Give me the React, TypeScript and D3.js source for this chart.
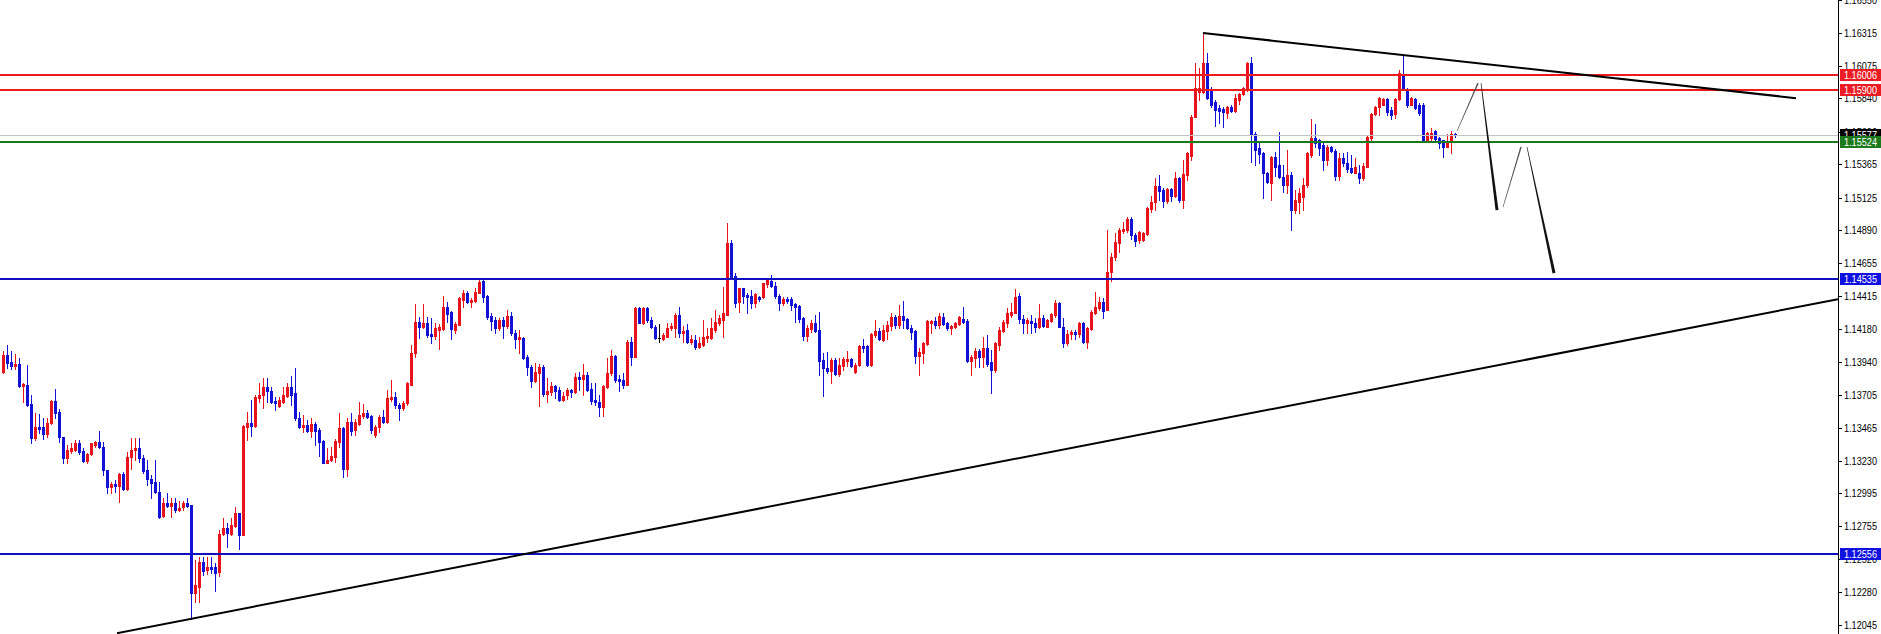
import React, { useEffect } from 'react';
import * as d3 from 'd3';

// ---- candle data (EURUSD-like) ----
const opens = [
1.13868,1.13990,1.13940,1.13911,1.13925,1.13767,1.13774,1.13636,1.13391,1.13471,
1.13471,1.13420,1.13499,1.13658,1.13579,1.13399,1.13247,1.13298,1.13305,1.13355,
1.13298,1.13226,1.13276,1.13341,1.13363,1.13327,1.13161,1.13039,1.13060,1.13046,
1.13132,1.13024,1.13255,1.13305,1.13319,1.13247,1.13161,1.13096,1.13075,1.13003,
1.12829,1.12923,1.12902,1.12923,1.12872,1.12895,1.12923,1.12909,1.12274,1.12318,
1.12498,1.12440,1.12462,1.12462,1.12426,1.12699,1.12742,1.12699,1.12757,1.12850,
1.12692,1.13471,1.13499,1.13478,1.13679,1.13701,1.13760,1.13730,1.13658,1.13622,
1.13651,1.13694,1.13760,1.13715,1.13535,1.13471,1.13485,1.13442,1.13492,1.13449,
1.13370,1.13211,1.13233,1.13255,1.13363,1.13463,1.13168,1.13507,1.13449,1.13492,
1.13550,1.13571,1.13550,1.13413,1.13471,1.13543,1.13507,1.13672,1.13687,1.13629,
1.13607,1.13643,1.13774,1.14004,1.14228,1.14192,1.14220,1.14141,1.14127,1.14170,
1.14177,1.14336,1.14300,1.14170,1.14206,1.14386,1.14436,1.14372,1.14379,1.14436,
1.14523,1.14415,1.14271,1.14242,1.14184,1.14242,1.14199,1.14271,1.14148,1.14105,
1.14112,1.13976,1.13904,1.13803,1.13860,1.13904,1.13708,1.13723,1.13767,1.13737,
1.13665,1.13701,1.13737,1.13723,1.13832,1.13817,1.13846,1.13745,1.13665,1.13651,
1.13615,1.13760,1.13860,1.13983,1.13817,1.13810,1.13774,1.14084,1.13976,1.14328,
1.14220,1.14328,1.14242,1.14192,1.14112,1.14105,1.14120,1.14184,1.14184,1.14278,
1.14148,1.14170,1.14084,1.14098,1.14048,1.14062,1.14112,1.14112,1.14170,1.14220,
1.14242,1.14278,1.14797,1.14560,1.14372,1.14472,1.14422,1.14415,1.14364,1.14408,
1.14408,1.14501,1.14523,1.14487,1.14415,1.14364,1.14393,1.14393,1.14357,1.14343,
1.14256,1.14127,1.14177,1.14220,1.14170,1.13954,1.13896,1.13875,1.13954,1.13853,
1.13911,1.13947,1.13961,1.13868,1.13918,1.14055,1.14055,1.13918,1.14134,1.14163,
1.14098,1.14163,1.14199,1.14264,1.14206,1.14271,1.14249,1.14184,1.14163,1.13983,
1.14004,1.14069,1.14220,1.14235,1.14206,1.14264,1.14220,1.14184,1.14192,1.14213,
1.14249,1.14235,1.13947,1.13968,1.14019,1.13976,1.14040,1.13940,1.13882,1.14062,
1.14163,1.14220,1.14278,1.14292,1.14415,1.14249,1.14220,1.14235,1.14220,1.14192,
1.14256,1.14192,1.14235,1.14278,1.14364,1.14192,1.14076,1.14141,1.14156,1.14141,
1.14220,1.14084,1.14177,1.14292,1.14328,1.14372,1.14314,1.14589,1.14697,1.14797,
1.14884,1.14891,1.14970,1.14855,1.14819,1.14819,1.14862,1.15042,1.15093,1.15208,
1.15179,1.15100,1.15186,1.15136,1.15265,1.15107,1.15287,1.15425,1.15706,1.15886,
1.15886,1.16094,1.15907,1.15814,1.15770,1.15763,1.15734,1.15778,1.15749,1.15828,
1.15871,1.15900,1.16094,1.15583,1.15482,1.15446,1.15301,1.15229,1.15418,1.15360,
1.15273,1.15215,1.15287,1.15035,1.15093,1.15128,1.15215,1.15432,1.15555,1.15540,
1.15504,1.15396,1.15490,1.15461,1.15280,1.15410,1.15374,1.15338,1.15301,1.15301,
1.15265,1.15345,1.15555,1.15727,1.15778,1.15792,1.15835,1.15756,1.15727,1.15835,
1.16000,1.15900,1.15792,1.15835,1.15792,1.15792,1.15540,1.15555,1.15605,1.15555,
1.15540,1.15490,1.15533,1.15583,
];

const highs = [
1.14019,1.14062,1.14019,1.13997,1.13968,1.13788,1.13918,1.13701,1.13571,1.13564,
1.13535,1.13535,1.13665,1.13745,1.13600,1.13399,1.13341,1.13355,1.13377,1.13377,
1.13319,1.13283,1.13355,1.13370,1.13442,1.13363,1.13161,1.13075,1.13089,1.13139,
1.13147,1.13291,1.13391,1.13391,1.13391,1.13269,1.13233,1.13125,1.13233,1.13075,
1.12959,1.12995,1.12959,1.12959,1.12938,1.12938,1.12959,1.12909,1.12512,1.12534,
1.12534,1.12534,1.12534,1.12490,1.12728,1.12814,1.12778,1.12814,1.12895,1.12850,
1.13485,1.13579,1.13665,1.13701,1.13788,1.13824,1.13824,1.13760,1.13687,1.13687,
1.13760,1.13788,1.13839,1.13896,1.13579,1.13557,1.13521,1.13535,1.13507,1.13463,
1.13377,1.13319,1.13327,1.13384,1.13571,1.13471,1.13535,1.13571,1.13528,1.13651,
1.13636,1.13593,1.13557,1.13485,1.13557,1.13593,1.13737,1.13810,1.13723,1.13643,
1.13658,1.13796,1.14062,1.14357,1.14264,1.14357,1.14264,1.14256,1.14220,1.14213,
1.14415,1.14372,1.14307,1.14228,1.14408,1.14458,1.14451,1.14400,1.14472,1.14538,
1.14530,1.14422,1.14292,1.14264,1.14256,1.14264,1.14314,1.14300,1.14170,1.14170,
1.14120,1.13990,1.13918,1.13932,1.13925,1.13918,1.13824,1.13796,1.13774,1.13760,
1.13723,1.13752,1.13745,1.13860,1.13868,1.13925,1.13868,1.13788,1.13788,1.13701,
1.13774,1.13968,1.14026,1.13990,1.13846,1.13860,1.14098,1.14120,1.14336,1.14336,
1.14336,1.14336,1.14264,1.14206,1.14213,1.14148,1.14220,1.14220,1.14292,1.14336,
1.14199,1.14213,1.14134,1.14134,1.14120,1.14242,1.14184,1.14256,1.14314,1.14278,
1.14480,1.14941,1.14819,1.14581,1.14472,1.14472,1.14436,1.14458,1.14436,1.14415,
1.14508,1.14545,1.14567,1.14516,1.14429,1.14408,1.14408,1.14408,1.14364,1.14350,
1.14264,1.14206,1.14242,1.14278,1.14300,1.14004,1.14011,1.13968,1.13968,1.13968,
1.13976,1.14019,1.13968,1.13932,1.14062,1.14105,1.14062,1.14148,1.14242,1.14184,
1.14206,1.14235,1.14292,1.14278,1.14350,1.14379,1.14256,1.14206,1.14170,1.14040,
1.14084,1.14242,1.14242,1.14264,1.14292,1.14292,1.14228,1.14206,1.14228,1.14271,
1.14336,1.14249,1.13990,1.14040,1.14033,1.14120,1.14134,1.14026,1.14084,1.14192,
1.14242,1.14328,1.14364,1.14465,1.14436,1.14278,1.14256,1.14278,1.14256,1.14357,
1.14278,1.14249,1.14292,1.14386,1.14372,1.14256,1.14170,1.14170,1.14170,1.14228,
1.14228,1.14192,1.14314,1.14444,1.14408,1.14400,1.14891,1.14725,1.14869,1.14905,
1.14949,1.14985,1.14985,1.14869,1.14884,1.14877,1.15057,1.15136,1.15265,1.15287,
1.15194,1.15194,1.15194,1.15309,1.15273,1.15396,1.15454,1.15720,1.16094,1.16058,
1.16311,1.16167,1.15922,1.15828,1.15792,1.15778,1.15785,1.15792,1.15871,1.15878,
1.15922,1.16102,1.16138,1.15598,1.15518,1.15454,1.15309,1.15425,1.15454,1.15598,
1.15360,1.15468,1.15309,1.15179,1.15194,1.15265,1.15454,1.15691,1.15655,1.15547,
1.15518,1.15504,1.15497,1.15475,1.15446,1.15446,1.15454,1.15432,1.15410,1.15360,
1.15374,1.15576,1.15734,1.15785,1.15850,1.15842,1.15842,1.15778,1.15842,1.16044,
1.16152,1.15914,1.15850,1.15842,1.15806,1.15806,1.15598,1.15626,1.15612,1.15562,
1.15540,1.15583,1.15605,1.15590,
];

const lows = [
1.13860,1.13896,1.13889,1.13889,1.13760,1.13651,1.13622,1.13355,1.13377,1.13427,
1.13384,1.13399,1.13492,1.13535,1.13363,1.13211,1.13211,1.13283,1.13298,1.13276,
1.13219,1.13211,1.13269,1.13327,1.13319,1.13125,1.12995,1.12995,1.13003,1.12931,
1.13017,1.13017,1.13168,1.13233,1.13219,1.13139,1.13053,1.12959,1.12995,1.12814,
1.12822,1.12895,1.12822,1.12858,1.12865,1.12872,1.12895,1.12087,1.12210,1.12210,
1.12404,1.12411,1.12418,1.12289,1.12397,1.12692,1.12606,1.12692,1.12750,1.12591,
1.12692,1.13377,1.13406,1.13471,1.13651,1.13607,1.13651,1.13643,1.13593,1.13615,
1.13643,1.13687,1.13629,1.13521,1.13463,1.13435,1.13435,1.13399,1.13341,1.13262,
1.13211,1.13211,1.13226,1.13219,1.13327,1.13111,1.13118,1.13413,1.13413,1.13485,
1.13535,1.13535,1.13427,1.13399,1.13435,1.13499,1.13499,1.13658,1.13607,1.13521,
1.13593,1.13629,1.13774,1.13976,1.14112,1.14184,1.14120,1.14076,1.14105,1.14033,
1.14170,1.14228,1.14105,1.14148,1.14206,1.14336,1.14364,1.14336,1.14372,1.14436,
1.14372,1.14249,1.14170,1.14148,1.14170,1.14112,1.14184,1.14134,1.14040,1.14004,
1.13961,1.13846,1.13760,1.13796,1.13622,1.13694,1.13651,1.13701,1.13679,1.13658,
1.13658,1.13672,1.13687,1.13715,1.13737,1.13701,1.13730,1.13636,1.13629,1.13550,
1.13550,1.13752,1.13846,1.13796,1.13730,1.13752,1.13774,1.13918,1.13976,1.14220,
1.14213,1.14228,1.14184,1.14105,1.14084,1.14098,1.14120,1.14170,1.14120,1.14120,
1.14084,1.14076,1.14069,1.14033,1.14040,1.14055,1.14084,1.14105,1.14156,1.14206,
1.14120,1.14278,1.14545,1.14336,1.14300,1.14364,1.14292,1.14328,1.14336,1.14379,
1.14400,1.14480,1.14480,1.14400,1.14314,1.14350,1.14364,1.14314,1.14228,1.14228,
1.14098,1.14091,1.14156,1.14156,1.13846,1.13694,1.13860,1.13788,1.13846,1.13839,
1.13882,1.13911,1.13904,1.13860,1.13911,1.14011,1.13911,1.13911,1.14120,1.14098,
1.14091,1.14105,1.14170,1.14184,1.14184,1.14184,1.14177,1.14105,1.13932,1.13846,
1.13932,1.14062,1.14148,1.14184,1.14184,1.14206,1.14170,1.14141,1.14184,1.14206,
1.14220,1.13940,1.13846,1.13904,1.13904,1.13904,1.13911,1.13715,1.13868,1.14026,
1.14156,1.14192,1.14264,1.14292,1.14220,1.14148,1.14148,1.14148,1.14156,1.14184,
1.14192,1.14192,1.14228,1.14264,1.14192,1.14048,1.14062,1.14105,1.14105,1.14120,
1.14076,1.14040,1.14170,1.14285,1.14314,1.14256,1.14314,1.14523,1.14675,1.14733,
1.14869,1.14877,1.14826,1.14776,1.14797,1.14812,1.14855,1.15021,1.15035,1.15107,
1.15057,1.15085,1.15100,1.15128,1.15093,1.15049,1.15251,1.15396,1.15706,1.15828,
1.15878,1.15835,1.15778,1.15641,1.15662,1.15634,1.15698,1.15742,1.15742,1.15799,
1.15864,1.15893,1.15382,1.15360,1.15374,1.15121,1.15229,1.15107,1.15280,1.15265,
1.15165,1.15157,1.14891,1.15014,1.15014,1.15035,1.15201,1.15418,1.15490,1.15432,
1.15323,1.15360,1.15454,1.15251,1.15251,1.15352,1.15309,1.15301,1.15301,1.15229,
1.15251,1.15345,1.15540,1.15720,1.15720,1.15792,1.15720,1.15691,1.15698,1.15828,
1.15900,1.15778,1.15792,1.15763,1.15720,1.15533,1.15533,1.15540,1.15540,1.15482,
1.15418,1.15490,1.15446,1.15562,
];

const closes = [
1.13990,1.13932,1.13911,1.13925,1.13767,1.13781,1.13629,1.13391,1.13471,1.13456,
1.13420,1.13499,1.13658,1.13571,1.13399,1.13247,1.13305,1.13319,1.13355,1.13291,
1.13226,1.13276,1.13355,1.13363,1.13327,1.13161,1.13039,1.13060,1.13046,1.13132,
1.13024,1.13255,1.13305,1.13319,1.13247,1.13154,1.13096,1.13067,1.13003,1.12822,
1.12923,1.12902,1.12923,1.12872,1.12887,1.12923,1.12902,1.12274,1.12332,1.12498,
1.12433,1.12462,1.12447,1.12418,1.12699,1.12742,1.12706,1.12764,1.12850,1.12692,
1.13478,1.13499,1.13478,1.13687,1.13701,1.13760,1.13730,1.13651,1.13643,1.13665,
1.13701,1.13760,1.13701,1.13535,1.13471,1.13485,1.13442,1.13492,1.13442,1.13363,
1.13211,1.13233,1.13262,1.13370,1.13463,1.13168,1.13507,1.13442,1.13507,1.13557,
1.13571,1.13543,1.13449,1.13471,1.13543,1.13507,1.13679,1.13687,1.13629,1.13607,
1.13643,1.13788,1.14004,1.14228,1.14192,1.14220,1.14134,1.14127,1.14184,1.14192,
1.14336,1.14285,1.14177,1.14213,1.14400,1.14436,1.14372,1.14386,1.14444,1.14516,
1.14408,1.14264,1.14235,1.14184,1.14242,1.14199,1.14271,1.14148,1.14105,1.14120,
1.13968,1.13904,1.13803,1.13868,1.13904,1.13708,1.13730,1.13767,1.13730,1.13665,
1.13694,1.13737,1.13723,1.13832,1.13817,1.13846,1.13737,1.13658,1.13651,1.13615,
1.13767,1.13860,1.13983,1.13810,1.13803,1.13774,1.14084,1.13976,1.14328,1.14220,
1.14328,1.14242,1.14192,1.14112,1.14112,1.14134,1.14184,1.14199,1.14278,1.14148,
1.14163,1.14084,1.14105,1.14048,1.14076,1.14120,1.14127,1.14184,1.14228,1.14256,
1.14292,1.14797,1.14553,1.14364,1.14472,1.14415,1.14408,1.14364,1.14429,1.14393,
1.14508,1.14530,1.14487,1.14415,1.14364,1.14393,1.14379,1.14350,1.14336,1.14249,
1.14127,1.14184,1.14220,1.14163,1.13947,1.13896,1.13875,1.13954,1.13853,1.13918,
1.13961,1.13961,1.13911,1.13918,1.14055,1.14040,1.13918,1.14141,1.14163,1.14105,
1.14170,1.14206,1.14264,1.14206,1.14271,1.14242,1.14184,1.14156,1.13983,1.14011,
1.14076,1.14235,1.14235,1.14206,1.14271,1.14213,1.14184,1.14199,1.14220,1.14264,
1.14228,1.13947,1.13976,1.14019,1.13976,1.14040,1.13925,1.13882,1.14076,1.14170,
1.14228,1.14292,1.14300,1.14408,1.14249,1.14220,1.14242,1.14220,1.14192,1.14256,
1.14199,1.14242,1.14285,1.14364,1.14192,1.14076,1.14141,1.14156,1.14141,1.14220,
1.14084,1.14184,1.14300,1.14336,1.14372,1.14307,1.14589,1.14697,1.14805,1.14891,
1.14898,1.14970,1.14855,1.14812,1.14877,1.14869,1.15049,1.15093,1.15208,1.15172,
1.15100,1.15186,1.15136,1.15265,1.15107,1.15294,1.15446,1.15706,1.15914,1.15914,
1.16094,1.15842,1.15792,1.15756,1.15749,1.15742,1.15778,1.15749,1.15842,1.15871,
1.15914,1.16094,1.15576,1.15468,1.15439,1.15301,1.15237,1.15418,1.15345,1.15273,
1.15215,1.15287,1.15035,1.15107,1.15157,1.15215,1.15446,1.15555,1.15518,1.15482,
1.15396,1.15490,1.15461,1.15280,1.15410,1.15374,1.15331,1.15309,1.15345,1.15265,
1.15352,1.15562,1.15727,1.15778,1.15842,1.15835,1.15742,1.15720,1.15835,1.16022,
1.15914,1.15792,1.15842,1.15770,1.15734,1.15540,1.15590,1.15590,1.15547,1.15518,
1.15490,1.15526,1.15583,1.15577,
];

// price axis tick labels
const tickValues = [1.1655, 1.16315, 1.16075, 1.1584, 1.156, 1.15365, 1.15125, 1.1489, 1.14655, 1.14415,
  1.1418, 1.1394, 1.13705, 1.13465, 1.1323, 1.12995, 1.12755, 1.1252, 1.1228, 1.12045];

// horizontal levels
const levelPrices = [1.16006, 1.159, 1.15577, 1.15524, 1.14535, 1.12556];
const levelKinds = ['resistance', 'resistance', 'bid', 'pivot', 'support', 'support'];

// trend lines: [bar index, price] endpoints
const trendStartBars = [300, 28.5];
const trendStartPrices = [1.16311, 1.11986];
const trendEndBars = [448.25, 458.75];
const trendEndPrices = [1.15842, 1.14393];

// projected path (bar index, price)
const pathBars = [363.5, 368.75, 369.5, 373.5, 375, 379.5, 381, 387.75];
const pathPrices = [1.15605, 1.1595, 1.1595, 1.15035, 1.15057, 1.1549, 1.1549, 1.14581];

const BULL = '#e8141b';
const BEAR = '#1212d4';
const DOJI = '#000000';
const levelStyle: Record<string, { color: string; width: number; label: string }> = {
  resistance: { color: '#ec1c1c', width: 2, label: '#ec1c24' },
  bid: { color: '#c4c4c4', width: 1, label: '#000000' },
  pivot: { color: '#1b7a1b', width: 2, label: '#1b7a1b' },
  support: { color: '#1010c0', width: 2, label: '#1010e0' },
};

const W = 1881;
const H = 634;
const AX = 1838;
const FONT = "'Liberation Sans', Arial, sans-serif";
const LABEL_X = 1844;

export default function App() {
  useEffect(() => {
    document.body.style.margin = '0';
    document.body.style.overflow = 'hidden';
  }, []);

  const y = d3.scaleLinear().domain([1.16315, 1.12045]).range([32.5, 625]);
  const x = d3.scaleLinear().domain([0, 1]).range([3, 7]);

  const taper = (x0: number, y0: number, x1: number, y1: number, w0: number, w1: number) => {
    const dx = x1 - x0, dy = y1 - y0;
    const len = Math.hypot(dx, dy) || 1;
    const nx = -dy / len, ny = dx / len;
    return [
      [x0 + nx * w0, y0 + ny * w0],
      [x1 + nx * w1, y1 + ny * w1],
      [x1 - nx * w1, y1 - ny * w1],
      [x0 - nx * w0, y0 - ny * w0],
    ].map((p) => p.join(',')).join(' ');
  };

  return (
    <div style={{ position: 'absolute', left: 0, top: 0, width: W, height: H, background: '#fff' }}>
      <svg width={W} height={H} style={{ display: 'block' }}>
        <defs>
          <clipPath id="plot">
            <rect x={0} y={0} width={AX} height={H} />
          </clipPath>
        </defs>
        <rect x={0} y={0} width={W} height={H} fill="#ffffff" />

        <g clipPath="url(#plot)" shapeRendering="crispEdges">
          {closes.map((c, i) => {
            const o = opens[i];
            const h = highs[i];
            const l = lows[i];
            const cx = Math.round(x(i));
            const color = c > o ? BULL : c < o ? BEAR : DOJI;
            const yTop = Math.round(y(Math.max(o, c)));
            const yBot = Math.round(y(Math.min(o, c)));
            const yh = Math.round(y(h));
            const yl = Math.round(y(l));
            return (
              <g key={i}>
                <rect x={cx} y={yh} width={1} height={Math.max(1, yl - yh + 1)} fill={color} />
                <rect x={cx - 1} y={yTop} width={3} height={Math.max(1, yBot - yTop + 1)} fill={color} />
              </g>
            );
          })}
        </g>

        <g clipPath="url(#plot)">
          {levelPrices.map((p, k) => {
            const st = levelStyle[levelKinds[k]];
            const yy = Math.round(y(p)) + (st.width % 2 ? 0.5 : 0);
            return (
              <line key={k} x1={0} x2={AX} y1={yy} y2={yy} stroke={st.color} strokeWidth={st.width}
                shapeRendering="crispEdges" />
            );
          })}
          {trendStartBars.map((b, k) => (
            <line key={k} x1={x(b)} y1={y(trendStartPrices[k])} x2={x(trendEndBars[k])} y2={y(trendEndPrices[k])}
              stroke="#000" strokeWidth={2} />
          ))}
          {[0, 1, 2, 3].map((k) => {
            const x0 = x(pathBars[2 * k]);
            const y0 = y(pathPrices[2 * k]);
            const x1 = x(pathBars[2 * k + 1]);
            const y1 = y(pathPrices[2 * k + 1]);
            const down = y1 > y0;
            return (
              <polygon key={k} points={taper(x0, y0, x1, y1, 0.3, down ? 1.5 : 0.7)}
                fill={down ? '#111' : '#555'} />
            );
          })}
        </g>

        {/* price axis */}
        <line x1={AX + 0.5} x2={AX + 0.5} y1={0} y2={H} stroke="#000" strokeWidth={1} shapeRendering="crispEdges" />
        {tickValues.map((v, k) => {
          const yy = Math.round(y(v)) + 0.5;
          return (
            <g key={k}>
              <line x1={AX} x2={AX + 4} y1={yy} y2={yy} stroke="#000" strokeWidth={1} shapeRendering="crispEdges" />
              <text x={LABEL_X} y={yy} dominantBaseline="central" fontFamily={FONT} fontSize={10} fill="#000"
                textLength={33} lengthAdjust="spacingAndGlyphs">{v.toFixed(5)}</text>
            </g>
          );
        })}
        {levelPrices.map((p, k) => {
          const st = levelStyle[levelKinds[k]];
          const yy = Math.round(y(p));
          return (
            <g key={k}>
              <rect x={AX + 2} y={yy - 6} width={W - AX - 2} height={12} fill={st.label} shapeRendering="crispEdges" />
              <text x={LABEL_X} y={yy + 0.5} dominantBaseline="central" fontFamily={FONT} fontSize={10} fill="#fff"
                textLength={33} lengthAdjust="spacingAndGlyphs">{p.toFixed(5)}</text>
            </g>
          );
        })}
      </svg>
    </div>
  );
}
